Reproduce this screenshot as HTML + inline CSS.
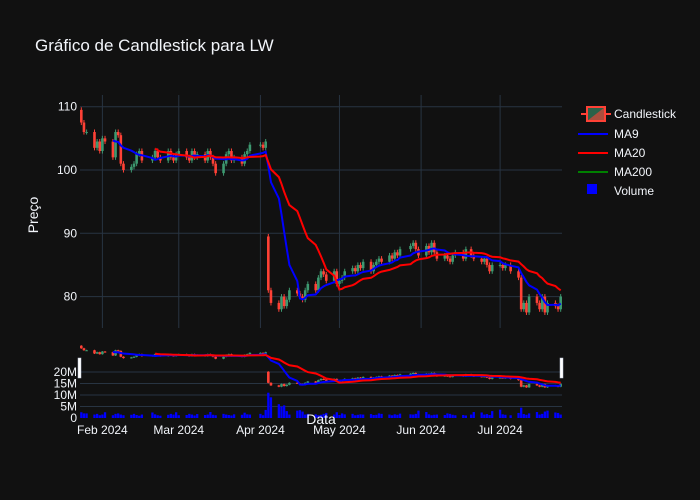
<!DOCTYPE html>
<html><head><meta charset="utf-8"><style>
body{margin:0;background:#111111;}
svg{display:block;font-family:"Liberation Sans",sans-serif;}
</style></head><body>
<svg id="chart" width="700" height="500" viewBox="0 0 700 500">
<defs><clipPath id="clipMain"><rect x="80" y="90" width="482" height="240"/></clipPath><clipPath id="clipSl"><rect x="80" y="340" width="482" height="82"/></clipPath></defs>
<rect x="0" y="0" width="700" height="500" fill="#111111"/>
<text x="35" y="51" fill="#f2f5fa" font-size="17">Gráfico de Candlestick para LW</text>
<g id="grid"></g>
<g id="main" clip-path="url(#clipMain)"></g>
<g id="slider"></g>
<text transform="translate(38,215) rotate(-90)" fill="#f2f5fa" font-size="14" text-anchor="middle">Preço</text>
<text x="321" y="424" fill="#f2f5fa" font-size="14" text-anchor="middle">Data</text>
<g id="legend" font-size="12" fill="#f2f5fa">
 <g>
  <path d="M581 114h6M605 114h6" stroke="#FF4136" stroke-width="2"/>
  <rect x="587" y="107" width="18" height="14" fill="#3D9970" fill-opacity="0.6" stroke="#FF4136" stroke-width="2"/>
  <path d="M587 121L605 107V121Z" fill="#FF4136" fill-opacity="0.6"/>
  <text x="614" y="118">Candlestick</text></g>
 <g><path d="M578 134h30" stroke="#0000ff" stroke-width="2"/><text x="614" y="138">MA9</text></g>
 <g><path d="M578 153h30" stroke="#ff0000" stroke-width="2"/><text x="614" y="157">MA20</text></g>
 <g><path d="M578 172h30" stroke="#008000" stroke-width="2"/><text x="614" y="176">MA200</text></g>
 <g><rect x="587" y="184" width="10" height="10" fill="#0000ff"/><text x="614" y="195">Volume</text></g>
</g>
</svg>
<script>
const dates=["2024-01-24","2024-01-25","2024-01-26","2024-01-29","2024-01-30","2024-01-31",
"2024-02-01","2024-02-02","2024-02-05","2024-02-06","2024-02-07","2024-02-08","2024-02-09","2024-02-12","2024-02-13","2024-02-14","2024-02-15","2024-02-16","2024-02-20","2024-02-21","2024-02-22","2024-02-23","2024-02-26","2024-02-27","2024-02-28","2024-02-29",
"2024-03-01","2024-03-04","2024-03-05","2024-03-06","2024-03-07","2024-03-08","2024-03-11","2024-03-12","2024-03-13","2024-03-14","2024-03-15","2024-03-18","2024-03-19","2024-03-20","2024-03-21","2024-03-22","2024-03-25","2024-03-26","2024-03-27","2024-03-28",
"2024-04-01","2024-04-02","2024-04-03","2024-04-04","2024-04-05","2024-04-08","2024-04-09","2024-04-10","2024-04-11","2024-04-12","2024-04-15","2024-04-16","2024-04-17","2024-04-18","2024-04-19","2024-04-22","2024-04-23","2024-04-24","2024-04-25","2024-04-26","2024-04-29","2024-04-30",
"2024-05-01","2024-05-02","2024-05-03","2024-05-06","2024-05-07","2024-05-08","2024-05-09","2024-05-10","2024-05-13","2024-05-14","2024-05-15","2024-05-16","2024-05-17","2024-05-20","2024-05-21","2024-05-22","2024-05-23","2024-05-24","2024-05-28","2024-05-29","2024-05-30","2024-05-31",
"2024-06-03","2024-06-04","2024-06-05","2024-06-06","2024-06-07","2024-06-10","2024-06-11","2024-06-12","2024-06-13","2024-06-14","2024-06-17","2024-06-18","2024-06-20","2024-06-21","2024-06-24","2024-06-25","2024-06-26","2024-06-27","2024-06-28",
"2024-07-01","2024-07-02","2024-07-03","2024-07-05","2024-07-08","2024-07-09","2024-07-10","2024-07-11","2024-07-12","2024-07-15","2024-07-16","2024-07-17","2024-07-18","2024-07-19","2024-07-22","2024-07-23","2024-07-24"];
const closes=[107.5,106,106,103.5,104.5,103,
105,104.5,102,106,105.5,101,100,100.5,101,102.5,103,101.5,102,103,102,101.5,103,102,101.5,102.5,
103,102,101.5,103,102,102.5,101.5,103,102,101,99.5,101,102.5,103,101.5,102,101,102.5,103,104,
104,103.5,104.5,81,79,78,80,78.5,79.5,81,80.5,80,79.5,81,82,81,83,84,83.5,82.5,84,82,
82.5,83,84,84.5,84,85,84.5,85.5,84,85,85.5,86,85.5,86.5,86,87,86.5,87.5,88,88.5,87.5,86.5,
88,87,88.5,87,86,86.5,86,85.5,86.5,87,86,87.5,86.5,86,85.5,86,85,84,85,
85,84.5,85,84,83,78,79,77.5,80,79,78,80,77.5,79,78.5,78,80,79,78.5,79.5];
const firstOpen=109.5;
const gapDate="2024-04-04";
const gapOpen=89.5;
const volumes=[2.5,2,2,1.5,1.8,1.2,
1.5,2.5,1.2,1.8,2,1.5,1.2,1.4,1.8,1.3,1,1.5,2.4,1.6,1.2,1,1.4,1.8,1.5,2.5,
1.2,1.3,1.8,1.5,1.1,1.7,1.3,1.5,2.6,1.4,1.2,1.8,1.5,1.3,1.1,1.6,1.4,2.3,1.6,1.5,
1.8,1.2,3.5,11,9,6,5,5.5,3,1.5,3.2,3.4,2.8,1.5,1.8,1.6,1.2,1.4,1.8,2.2,1.5,2.5,
1.3,2,1.6,1.8,1.2,1.4,1.6,1.5,1.7,1.3,1.4,2,1.8,1.5,1.2,1.6,1.4,1.9,1.6,1.5,1.8,3.2,
2.6,1.6,1.2,1.4,1.5,1.3,2,1.8,1.4,1.2,1.3,1.1,1.5,2.6,2.4,1.5,1.7,1.3,3,
3.6,1.6,1.4,1.2,2.2,4.5,1.7,1.4,2,2.6,1.5,1.8,2.8,3.2,2.4,2.2,1.5,2.6,2.5,2.9];
const priceTicks=[80,90,100,110];
const volTicks=[0,5,10,15,20];
const volTickLabels=["0","5M","10M","15M","20M"];
const monthTicks=["2024-02-01","2024-03-01","2024-04-01","2024-05-01","2024-06-01","2024-07-01"];
const monthLabels=["Feb 2024","Mar 2024","Apr 2024","May 2024","Jun 2024","Jul 2024"];

const NS="http://www.w3.org/2000/svg";
const day=86400000;
const t0=Date.parse("2024-01-23")+0.5*day, t1=Date.parse("2024-07-24")+0.5*day;
const X0=80,X1=562;
const xs=d=>X0+(Date.parse(d)-t0)/(t1-t0)*(X1-X0);
const yMain=p=>170-(p-100)*6.33;
const ySl=p=>347+(108.5-p)*(388-347)/(108.5-77);
const yVol=v=>418-v*2.3;
function mk(tag,attrs,parent){const e=document.createElementNS(NS,tag);for(const k in attrs)e.setAttribute(k,attrs[k]);parent.appendChild(e);return e;}
const grid=document.getElementById('grid'),main=document.getElementById('main'),sl=document.getElementById('slider');

let sbg=mk('rect',{x:X0,y:344,width:X1-X0,height:76,fill:'#111111'},sl);



priceTicks.forEach(p=>{
 let l=mk('line',{x1:X0,x2:X1,y1:yMain(p),y2:yMain(p),stroke:'#283442','stroke-width':1},grid);
 
 
 let t=mk('text',{x:X0-3,y:yMain(p)+4,'text-anchor':'end',fill:'#f2f5fa','font-size':12},grid);t.textContent=p;
 
 
});
monthTicks.forEach((d,i)=>{
 let x=xs(d);
 let l=mk('line',{x1:x,x2:x,y1:95,y2:328,stroke:'#283442','stroke-width':1},grid);
 
 
 let t=mk('text',{x:x,y:434,'text-anchor':'middle',fill:'#f2f5fa','font-size':12},grid);t.textContent=monthLabels[i];
 
 
});
const slc=mk('g',{'clip-path':'url(#clipSl)'},sl);
volTicks.forEach((v,i)=>{
 if(v>0){let l=mk('line',{x1:X0,x2:X1,y1:yVol(v),y2:yVol(v),stroke:'#283442','stroke-width':1},sl);
 
 }
 let t=mk('text',{x:X0-3,y:yVol(v)+4,'text-anchor':'end',fill:'#f2f5fa','font-size':12},sl);t.textContent=volTickLabels[i];
 
 
});
const slg=mk('g',{'clip-path':'url(#clipSl)'},sl);

const bw=(X1-X0)/dates.length*0.6;
dates.forEach((d,i)=>{
 let b=mk('rect',{x:xs(d)-bw/2,y:yVol(volumes[i]),width:bw,height:volumes[i]*2.3,fill:'#0000ff'},slg);
 
 
});

function opens(i){return i===0?firstOpen:(dates[i]===gapDate?gapOpen:closes[i-1]);}
function drawCandles(parent,yf,w,nm){
 dates.forEach((d,i)=>{
  const o=opens(i),c=closes[i],up=c>=o,col=up?'#3D9970':'#FF4136';
  const hi=Math.max(o,c)+0.4,lo=Math.min(o,c)-0.4,x=xs(d);
  const g=mk('g',{},parent);
  
  
  mk('line',{x1:x,x2:x,y1:yf(hi),y2:yf(lo),stroke:col,'stroke-width':1},g);
  const a=yf(Math.max(o,c)),b=yf(Math.min(o,c));
  mk('rect',{x:x-w/2,y:a,width:w,height:Math.max(1,b-a),fill:col},g);
 });
}
function ma(n){return closes.map((_,i)=>{if(i<n-1)return null;let s=0;for(let k=i-n+1;k<=i;k++)s+=closes[k];return s/n;});}
const ma9=ma(9),ma20=ma(20);
function drawLine(parent,vals,yf,col,nm,w){
 let pts=[];vals.forEach((v,i)=>{if(v!=null)pts.push(xs(dates[i]).toFixed(1)+','+yf(v).toFixed(1));});
 const p=mk('polyline',{points:pts.join(' '),fill:'none',stroke:col,'stroke-width':w},parent);
 
 
}
drawCandles(main,yMain,2.6,'candle');
drawLine(main,ma9,yMain,'#0000ff','ma9-line',2);
drawLine(main,ma20,yMain,'#ff0000','ma20-line',2);
drawCandles(slg,ySl,2.6,'slider-candle');
drawLine(slg,ma9,ySl,'#0000ff','slider-ma9-line',2);
drawLine(slg,ma20,ySl,'#ff0000','slider-ma20-line',2);
[X0,X1].forEach((x,i)=>{
 let h=mk('rect',{x:x-2,y:358,width:3,height:20,fill:'#ffffff',stroke:'#bec8d9','stroke-width':0.5},sl);
 
 
});
</script>
</body></html>
